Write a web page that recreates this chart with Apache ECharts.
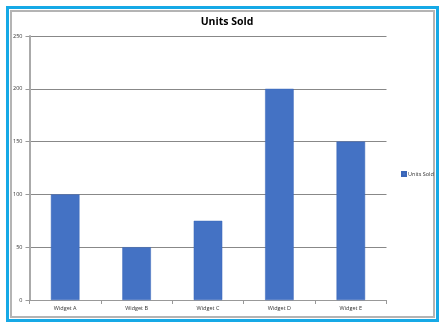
<!DOCTYPE html>
<html><head><meta charset="utf-8">
<script src="https://cdn.jsdelivr.net/npm/echarts@6/dist/echarts.min.js"></script>
<style>
html,body{margin:0;padding:0;background:#fff;}
#c{width:445px;height:328px;}
</style></head>
<body><div id="c"></div>
<script>
const categories = ["Widget A","Widget B","Widget C","Widget D","Widget E"];
const unitsSold = [100, 50, 75, 200, 150];
const seriesName = "Units Sold";
const titleText = "Units Sold";

const chart = echarts.init(document.getElementById('c'), null, {renderer:'canvas'});
chart.setOption({
  animation:false,
  backgroundColor:'#fff',
  graphic:[
    {type:'rect', shape:{x:7.5,y:7.5,width:430,height:313}, style:{fill:'none', stroke:'#16a9e6', lineWidth:3}, silent:true},
    {type:'rect', shape:{x:11,y:11,width:423,height:306}, style:{fill:'none', stroke:'#b4b4b4', lineWidth:2}, silent:true}
  ],
  title:{text:titleText, left:222, top:12, textAlign:'center',
    textStyle:{fontFamily:'Open Sans', fontSize:10.5, fontWeight:'bold', color:'#000'}},
  legend:{data:[seriesName], left:396, top:166, orient:'vertical', itemWidth:4, itemHeight:4, itemGap:2,
    icon:'rect', textStyle:{fontFamily:'Open Sans', fontSize:5.5, color:'#333', padding:[0,0,0,-3]}},
  grid:{left:29.5, top:36, width:357, height:264, containLabel:false},
  xAxis:{type:'category', data:categories,
    axisLine:{show:true, lineStyle:{color:'#999', width:1}},
    axisTick:{show:true, length:4, inside:false, lineStyle:{color:'#999'}, alignWithLabel:false},
    axisLabel:{fontFamily:'Open Sans', fontSize:5.5, color:'#333', margin:5}},
  yAxis:{type:'value', min:0, max:250, interval:50,
    axisLine:{show:true, lineStyle:{color:'#aaa', width:2}},
    axisTick:{show:true, length:4, lineStyle:{color:'#999'}},
    axisLabel:{fontFamily:'Open Sans', fontSize:5.5, color:'#333', margin:7},
    splitLine:{show:true, lineStyle:{color:'#888', width:1}}},
  series:[{name:seriesName, type:'bar', data:unitsSold, barWidth:'40%',
    itemStyle:{color:'#4472c4', borderColor:'#3a66b8', borderWidth:0.5}}]
});
</script></body></html>
